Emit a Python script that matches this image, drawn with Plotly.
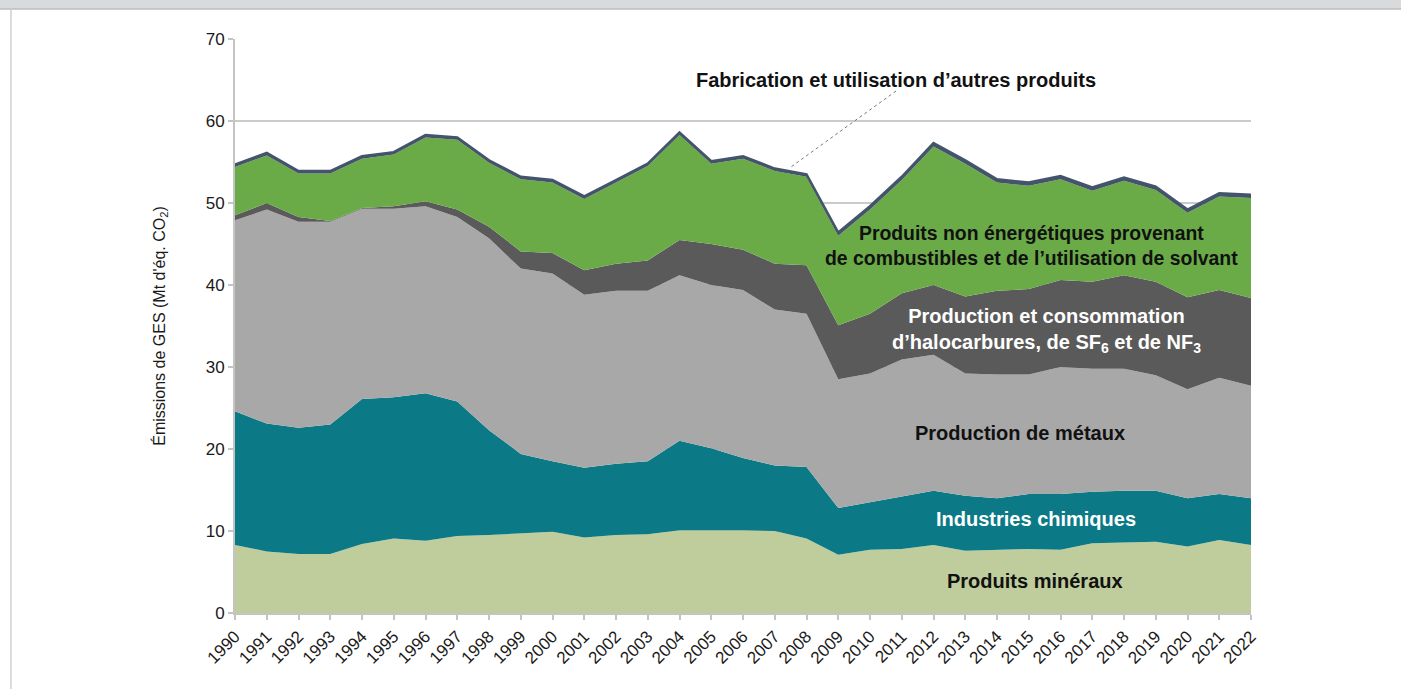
import plotly.graph_objects as go

years = list(range(1990, 2023))
year_labels = [str(y) for y in years]

produits_mineraux = [8.3, 7.5, 7.2, 7.2, 8.4, 9.1, 8.8, 9.4, 9.5, 9.7, 9.9, 9.2, 9.5, 9.6, 10.1, 10.1, 10.1,
                     10.0, 9.1, 7.1, 7.7, 7.8, 8.3, 7.6, 7.7, 7.8, 7.7, 8.5, 8.6, 8.7, 8.1, 8.9, 8.3]
industries_chimiques = [16.3, 15.6, 15.4, 15.8, 17.7, 17.2, 18.0, 16.4, 12.8, 9.7, 8.6, 8.5, 8.7, 8.9, 10.9, 10.0,
                        8.8, 8.0, 8.7, 5.7, 5.8, 6.4, 6.6, 6.7, 6.3, 6.7, 6.8, 6.3, 6.3, 6.2, 5.9, 5.6, 5.7]
production_metaux = [23.3, 26.1, 25.1, 24.7, 23.2, 23.0, 22.8, 22.5, 23.4, 22.6, 22.9, 21.1, 21.1, 20.8, 20.2, 19.9,
                     20.5, 19.0, 18.7, 15.7, 15.7, 16.7, 16.6, 14.9, 15.1, 14.6, 15.5, 15.0, 14.9, 14.1, 13.3, 14.2, 13.7]
halocarbures = [0.6, 0.8, 0.6, 0.1, 0.1, 0.3, 0.6, 0.9, 1.4, 2.1, 2.5, 3.0, 3.3, 3.7, 4.3, 5.0, 4.9, 5.6, 5.9,
                6.6, 7.3, 8.1, 8.5, 9.4, 10.2, 10.4, 10.6, 10.6, 11.4, 11.4, 11.2, 10.7, 10.7]
non_energetiques = [5.9, 5.8, 5.3, 5.8, 6.0, 6.3, 7.8, 8.5, 7.8, 8.8, 8.6, 8.7, 9.9, 11.5, 12.8, 9.8, 11.1, 11.3,
                    10.8, 10.9, 12.7, 13.8, 16.9, 16.2, 13.2, 12.6, 12.3, 11.1, 11.5, 11.2, 10.3, 11.4, 12.2]
autres_produits = [0.3] * 19 + [0.4] * 14

series = [
    ("Produits minéraux", produits_mineraux, "#bfcd9c"),
    ("Industries chimiques", industries_chimiques, "#0b7a86"),
    ("Production de métaux", production_metaux, "#a8a8a8"),
    ("Production et consommation d'halocarbures, de SF6 et de NF3", halocarbures, "#5a5a5a"),
    ("Produits non énergétiques", non_energetiques, "#6aab47"),
]

fig = go.Figure()
for name, vals, col in series:
    fig.add_trace(go.Scatter(x=years, y=vals, name=name, stackgroup="s", mode="lines",
                             line=dict(width=0, color=col), fillcolor=col, hoverinfo="skip"))
fig.add_trace(go.Scatter(x=years, y=autres_produits, name="Fabrication et utilisation d'autres produits",
                         stackgroup="s", mode="lines", line=dict(width=2.5, color="#44546a"),
                         fillcolor="#44546a", hoverinfo="skip"))

FONT = "Liberation Sans, Arial, sans-serif"

fig.update_layout(
    width=1401, height=689,
    margin=dict(l=235, r=150, t=39, b=76),
    paper_bgcolor="white", plot_bgcolor="white",
    showlegend=False,
    font=dict(family=FONT, color="#1a1a1a"),
    xaxis=dict(range=[1990, 2022], tickmode="array", tickvals=years, ticktext=year_labels,
               tickangle=-45, tickfont=dict(size=17, family=FONT, color="#1a1a1a"),
               showgrid=False, showline=True, linecolor="#c4c4c4", linewidth=2,
               ticks="outside", ticklen=5, tickcolor="#c4c4c4", tickwidth=2, zeroline=False),
    yaxis=dict(range=[0, 70], tickmode="array", tickvals=[0, 10, 20, 30, 40, 50, 60, 70],
               tickfont=dict(size=17, family=FONT, color="#1a1a1a"),
               showgrid=True, gridcolor="#cacaca", gridwidth=2,
               showline=True, linecolor="#c4c4c4", linewidth=2,
               ticks="outside", ticklen=5, tickcolor="#c4c4c4", tickwidth=2, zeroline=False,
               title=dict(text="Émissions de GES (Mt d'éq. CO<sub>2</sub>)",
                          font=dict(size=16, family=FONT, color="#1a1a1a"), standoff=36)),
)

# Page decoration (top band and left frame line)
fig.add_shape(type="rect", xref="paper", yref="paper", x0=-0.232, x1=1.148, y0=1.0523, y1=1.07,
              fillcolor="#d9dadc", line=dict(width=0), layer="above")
fig.add_shape(type="line", xref="paper", yref="paper", x0=-0.232, x1=1.148, y0=1.0523, y1=1.0523,
              line=dict(color="#bdbdbd", width=1.5), layer="above")
fig.add_shape(type="line", xref="paper", yref="paper", x0=-0.2205, x1=-0.2205, y0=-0.135, y1=1.0523,
              line=dict(color="#d0d0d0", width=1.5), layer="above")

def ann(text, x, y, color, size=20):
    fig.add_annotation(text=text, x=x, y=y, xref="x", yref="y", showarrow=False,
                       font=dict(size=size, family=FONT, color=color), align="center")

ann("<b>Fabrication et utilisation d’autres produits</b>", 2010.82, 65.0, "#111111")
ann("<b>Produits non énergétiques provenant<br>de combustibles et de l’utilisation de solvant</b>", 2015.1, 44.8, "#111111", size=19.4)
ann("<b>Production et consommation<br>d’halocarbures, de SF<sub>6</sub> et de NF<sub>3</sub></b>", 2015.57, 34.5, "white")
ann("<b>Production de métaux</b>", 2014.72, 21.95, "#111111")
ann("<b>Industries chimiques</b>", 2015.23, 11.46, "white")
ann("<b>Produits minéraux</b>", 2015.2, 3.9, "#111111")

# Leader line for the top category
fig.add_shape(type="line", xref="x", yref="y", x0=2010.82, y0=63.66, x1=2007.51, y1=54.39,
              line=dict(color="#777777", width=1, dash="dot"))

fig.write_html("out.html", config={"displayModeBar": False},
               post_script="document.body.style.margin='0px';document.body.style.overflow='hidden';")
